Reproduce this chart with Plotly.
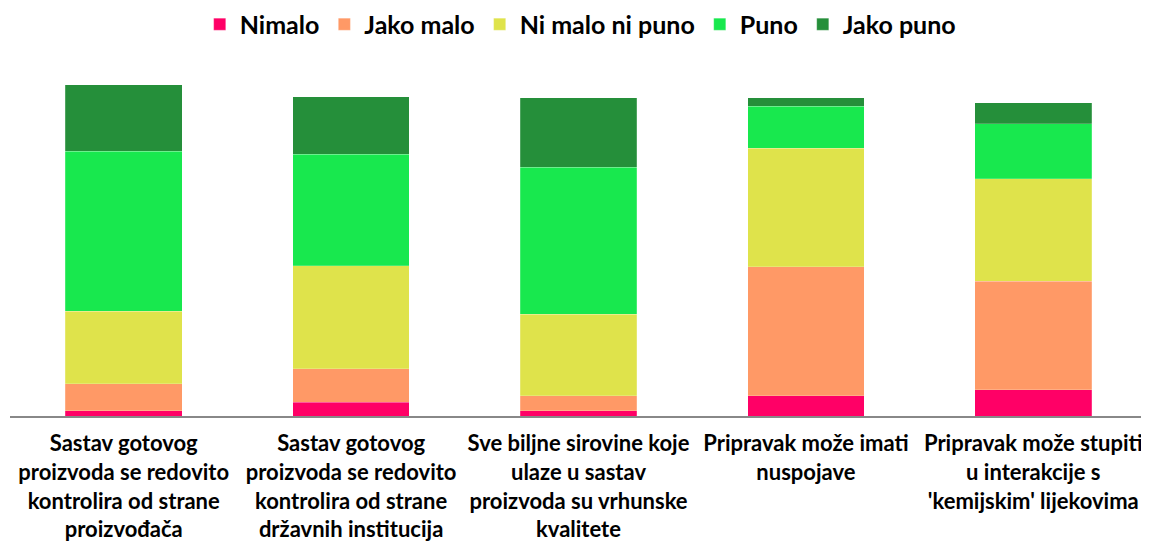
import plotly.graph_objects as go

categories = [
    "Sastav gotovog<br>proizvoda se redovito<br>kontrolira od strane<br>proizvođača",
    "Sastav gotovog<br>proizvoda se redovito<br>kontrolira od strane<br>državnih institucija",
    "Sve biljne sirovine koje<br>ulaze u sastav<br>proizvoda su vrhunske<br>kvalitete",
    "Pripravak može imati<br>nuspojave<br> <br> ",
    "Pripravak može stupiti<br>u interakcije s<br>'kemijskim' lijekovima<br> ",
]

nimalo = [1.6, 4.2, 1.6, 6.1, 8.0]
jako_malo = [8.2, 10.1, 4.5, 39.0, 32.8]
ni_malo_ni_puno = [21.9, 31.1, 24.6, 35.8, 31.0]
puno = [48.4, 33.7, 44.5, 12.8, 16.5]
jako_puno = [20.0, 17.4, 21.1, 2.6, 6.4]

series = [
    ("Nimalo", nimalo, "#ff0066"),
    ("Jako malo", jako_malo, "#ff9966"),
    ("Ni malo ni puno", ni_malo_ni_puno, "#dfe34b"),
    ("Puno", puno, "#18e84e"),
    ("Jako puno", jako_puno, "#258f3a"),
]

font = "Lato, 'Open Sans', sans-serif"

fig = go.Figure()
for name, vals, color in series:
    fig.add_trace(go.Bar(
        x=categories, y=vals, name=name,
        marker=dict(color=color, line=dict(color="rgba(255,255,255,0.4)", width=0.5)),
    ))

# page body has an 8px margin, so the figure is sized to fill the rest of the window
fig.update_layout(
    barmode="stack",
    bargap=0.487,
    width=1141, height=537,
    margin=dict(l=2, r=2, t=52, b=129, autoexpand=False),
    plot_bgcolor="white",
    paper_bgcolor="white",
    font=dict(family=font, size=20, color="black", weight="bold"),
    legend=dict(
        orientation="h", x=0.5015, xanchor="center", y=1.1, yanchor="middle",
        font=dict(size=25, family=font, weight="bold"),
        traceorder="normal",
    ),
    showlegend=True,
)
fig.update_xaxes(
    showline=True, linecolor="#888888", linewidth=2, automargin=False,
    tickangle=0,
    tickfont=dict(size=22, family=font, weight="bold", color="black"),
    ticklabelstandoff=7,
)
fig.update_yaxes(range=[0, 107.65], showticklabels=False, showgrid=False, zeroline=False)

fig.write_html("out.html")
